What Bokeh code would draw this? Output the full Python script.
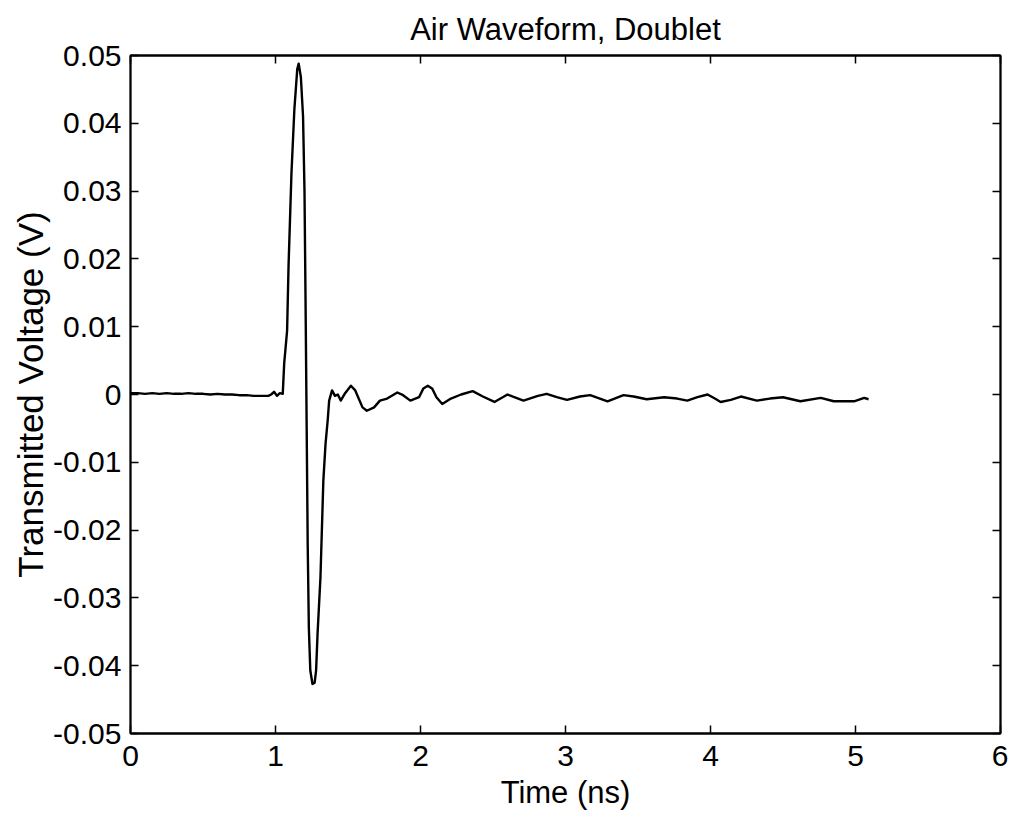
from bokeh.plotting import figure
from bokeh.models import LinearAxis, FixedTicker, CustomJSTickFormatter, Range1d
from bokeh.embed import file_html
from bokeh.resources import INLINE

# ---- data ----
time_ns = [0.00, 0.05, 0.10, 0.15, 0.20, 0.25, 0.30, 0.35, 0.40, 0.45,
           0.50, 0.55, 0.60, 0.65, 0.70, 0.75, 0.80, 0.85, 0.90, 0.95,
           0.97, 0.99, 1.01, 1.03, 1.05, 1.06, 1.08, 1.09, 1.11, 1.13,
           1.15, 1.16, 1.175, 1.19, 1.20, 1.207, 1.215, 1.222, 1.23, 1.24,
           1.255, 1.27, 1.28, 1.29, 1.31, 1.33, 1.345, 1.36, 1.37, 1.39,
           1.41, 1.43, 1.45, 1.48, 1.52, 1.55, 1.57, 1.60, 1.63, 1.68,
           1.72, 1.77, 1.84, 1.88, 1.93, 1.99, 2.02, 2.05, 2.08, 2.11, 2.15, 2.21,
           2.28, 2.36, 2.43, 2.51, 2.60, 2.71, 2.81, 2.87, 2.94, 3.01,
           3.10, 3.17, 3.29, 3.40, 3.47, 3.56, 3.68, 3.77, 3.84, 3.91,
           3.98, 4.03, 4.07, 4.14, 4.21, 4.32, 4.41, 4.50, 4.62, 4.76,
           4.85, 4.99, 5.06, 5.09]
voltage_v = [0.0002, 0.0002, 0.0001, 0.0002, 0.0001, 0.0002, 0.0001, 0.0001, 0.0002, 0.0001,
             0.0001, 0.0000, 0.0001, 0.0000, 0.0000, -0.0001, -0.0001, -0.0002, -0.0002, -0.0002,
             0.0000, 0.0004, -0.0002, 0.0002, 0.0001, 0.0046, 0.0094, 0.0190, 0.0326, 0.0420,
             0.0480, 0.0488, 0.0468, 0.0410, 0.0300, 0.0143, -0.0050, -0.0220, -0.0344, -0.0407,
             -0.0427, -0.0425, -0.0407, -0.0353, -0.0270, -0.0127, -0.0073, -0.0038, -0.0009, 0.0006,
             -0.0002, 0.0000, -0.0009, 0.0002, 0.0013, 0.0006, -0.0004, -0.0019, -0.0024, -0.0019,
             -0.0009, -0.0006, 0.0003, -0.0001, -0.0009, -0.0004, 0.0009, 0.0013, 0.0009, -0.0004, -0.0014, -0.0006,
             0.0000, 0.0005, -0.0003, -0.0011, 0.0000, -0.0009, -0.0002, 0.0001, -0.0004, -0.0008,
             -0.0003, -0.0001, -0.0010, -0.0001, -0.0003, -0.0007, -0.0004, -0.0006, -0.0009, -0.0004,
             0.0000, -0.0006, -0.0011, -0.0008, -0.0003, -0.0009, -0.0006, -0.0004, -0.0010, -0.0005,
             -0.0010, -0.0010, -0.0005, -0.0007]

x_ticks = [0, 1, 2, 3, 4, 5, 6]
x_tick_labels = ["0", "1", "2", "3", "4", "5", "6"]
y_ticks = [-0.05, -0.04, -0.03, -0.02, -0.01, 0.0, 0.01, 0.02, 0.03, 0.04, 0.05]
y_tick_labels = ["-0.05", "-0.04", "-0.03", "-0.02", "-0.01", "0",
                 "0.01", "0.02", "0.03", "0.04", "0.05"]

TITLE = "Air Waveform, Doublet"
X_LABEL = "Time (ns)"
Y_LABEL = "Transmitted Voltage (V)"

FONT = "Liberation Sans"

LOOKUP = """
let best = 0;
for (let i = 0; i < tvals.length; i++) {
  if (Math.abs(tvals[i] - tick) < Math.abs(tvals[best] - tick)) best = i;
}
return tlabels[best];
"""

p = figure(frame_width=870, frame_height=678,
           x_range=Range1d(0, 6), y_range=Range1d(-0.05, 0.05),
           output_backend="svg", toolbar_location=None,
           title=TITLE, x_axis_location=None, y_axis_location=None,
           min_border_left=130, min_border_top=55, min_border_right=8,
           min_border_bottom=80, background_fill_color="white",
           border_fill_color="white")

p.title.align = "center"
p.title.text_font = FONT
p.title.text_font_size = "31px"
p.title.text_font_style = "normal"
p.title.text_color = "black"
p.title.standoff = 18

p.xgrid.visible = False
p.ygrid.visible = False
p.outline_line_color = "black"
p.outline_line_width = 1.8


def style_axis(ax, labelled, tick_fs="30px", label_fs="32px"):
    ax.axis_line_color = "black"
    ax.axis_line_width = 1.8
    ax.major_tick_in = 8
    ax.major_tick_out = 0
    ax.major_tick_line_color = "black"
    ax.major_tick_line_width = 1.5
    ax.minor_tick_line_color = None
    ax.major_label_text_font = FONT
    ax.major_label_text_color = "black"
    ax.axis_label_text_font = FONT
    ax.axis_label_text_font_style = "normal"
    ax.axis_label_text_color = "black"
    ax.axis_label_text_font_size = label_fs
    if labelled:
        ax.major_label_text_font_size = tick_fs
        ax.major_label_standoff = 9
    else:
        ax.major_label_text_font_size = "0px"
        ax.major_label_standoff = 0


bottom = LinearAxis(ticker=FixedTicker(ticks=x_ticks),
                    formatter=CustomJSTickFormatter(args=dict(tvals=x_ticks, tlabels=x_tick_labels), code=LOOKUP),
                    axis_label=X_LABEL)
style_axis(bottom, True, label_fs="31px")
bottom.major_label_standoff = 12
bottom.axis_label_standoff = 6
p.add_layout(bottom, "below")

left = LinearAxis(ticker=FixedTicker(ticks=y_ticks),
                  formatter=CustomJSTickFormatter(args=dict(tvals=y_ticks, tlabels=y_tick_labels), code=LOOKUP),
                  axis_label=Y_LABEL)
style_axis(left, True, label_fs="35px")
left.axis_label_standoff = 0
p.add_layout(left, "left")

top = LinearAxis(ticker=FixedTicker(ticks=x_ticks),
                 formatter=CustomJSTickFormatter(code="return '';"))
style_axis(top, False)
p.add_layout(top, "above")

right = LinearAxis(ticker=FixedTicker(ticks=y_ticks),
                   formatter=CustomJSTickFormatter(code="return '';"))
style_axis(right, False)
p.add_layout(right, "right")

p.line(time_ns, voltage_v, line_color="black", line_width=2.4, line_join="round")

open("out.html", "w").write(file_html(p, INLINE))
